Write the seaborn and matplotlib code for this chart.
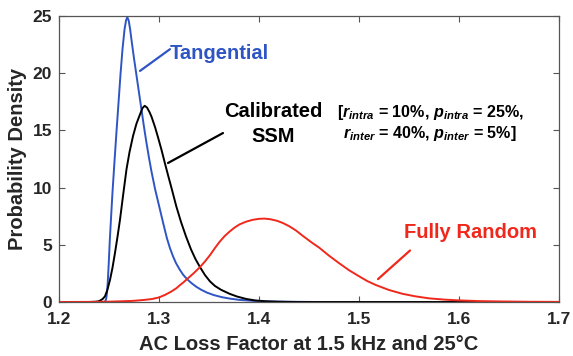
import numpy as np
import pandas as pd
import matplotlib
matplotlib.use("Agg")
import matplotlib.pyplot as plt
import seaborn as sns

# ---- data ----
tan_x = [1.2440, 1.2455, 1.2465, 1.2472, 1.2480, 1.2488, 1.2497, 1.2508, 1.2520, 1.2535,
         1.2555, 1.2575, 1.2595, 1.2615, 1.2635, 1.2655, 1.2670, 1.2683, 1.2697, 1.2712,
         1.2725, 1.2750, 1.2775, 1.2800, 1.2825, 1.2850, 1.2875, 1.2900, 1.2925, 1.2960,
         1.2990, 1.3020, 1.3050, 1.3080, 1.3110, 1.3140, 1.3170, 1.3206, 1.3240, 1.3280,
         1.3325, 1.3370, 1.3420, 1.3480, 1.3550, 1.3630, 1.3705, 1.3800, 1.3940, 1.4100,
         1.4300, 1.4600, 1.7000]
tan_y = [0.0, 0.02, 0.1, 0.3, 0.8, 1.8, 3.3, 5.4, 7.3, 9.6,
         12.3, 14.9, 17.4, 19.9, 22.1, 23.8, 24.6, 24.9, 24.6, 23.8,
         22.9, 21.3, 19.8, 18.3, 16.8, 15.3, 13.9, 12.6, 11.4, 9.9,
         8.8, 7.7, 6.6, 5.55, 4.7, 4.0, 3.4, 2.85, 2.4, 2.0,
         1.65, 1.35, 1.08, 0.82, 0.6, 0.42, 0.3, 0.19, 0.1, 0.05,
         0.02, 0.0, 0.0]

ssm_x = [1.2300, 1.2360, 1.2390, 1.2410, 1.2435, 1.2460, 1.2485, 1.2510, 1.2535, 1.2560,
         1.2585, 1.2610, 1.2642, 1.2675, 1.2705, 1.2740, 1.2775, 1.2810, 1.2835, 1.2857,
         1.2880, 1.2905, 1.2925, 1.2960, 1.2990, 1.3025, 1.3057, 1.3090, 1.3130, 1.3173,
         1.3220, 1.3270, 1.3320, 1.3365, 1.3410, 1.3460, 1.3510, 1.3560, 1.3620, 1.3705,
         1.3780, 1.3870, 1.3960, 1.4070, 1.4200, 1.4400, 1.7000]
ssm_y = [0.0, 0.02, 0.05, 0.12, 0.25, 0.5, 1.1, 1.93, 3.0, 4.3,
         5.7, 7.2, 9.4, 11.6, 13.1, 14.5, 15.6, 16.4, 16.95, 17.15,
         17.0, 16.6, 16.2, 15.3, 14.4, 13.3, 12.2, 11.1, 9.8, 8.36,
         7.0, 5.73, 4.6, 3.75, 3.05, 2.35, 1.8, 1.4, 1.07, 0.72,
         0.48, 0.27, 0.14, 0.06, 0.02, 0.0, 0.0]

rnd_x = [1.200, 1.230, 1.250, 1.265, 1.274, 1.285, 1.293, 1.300, 1.306, 1.312,
         1.3173, 1.3206, 1.3245, 1.328, 1.3345, 1.341, 1.346, 1.351, 1.3558, 1.3605,
         1.3655, 1.3705, 1.3755, 1.3805, 1.387, 1.3935, 1.400, 1.4054, 1.411, 1.418,
         1.424, 1.4303, 1.437, 1.4435, 1.4535, 1.4602, 1.470, 1.480, 1.490, 1.501,
         1.5085, 1.5167, 1.530, 1.5433, 1.556, 1.570, 1.585, 1.600, 1.620, 1.640,
         1.670, 1.700]
rnd_y = [0.0, 0.01, 0.03, 0.07, 0.1, 0.18, 0.26, 0.4, 0.62, 0.9,
         1.2, 1.45, 1.72, 2.0, 2.5, 3.05, 3.55, 4.1, 4.7, 5.25,
         5.75, 6.15, 6.5, 6.78, 7.02, 7.18, 7.27, 7.29, 7.24, 7.1,
         6.9, 6.62, 6.25, 5.8, 5.15, 4.75, 4.05, 3.4, 2.78, 2.2,
         1.82, 1.49, 1.05, 0.72, 0.5, 0.32, 0.21, 0.14, 0.08, 0.05,
         0.02, 0.01]

x_ticks = [1.2, 1.3, 1.4, 1.5, 1.6, 1.7]
y_ticks = [0, 5, 10, 15, 20, 25]

BLUE = "#2f55c4"
BLACK = "#000000"
RED = "#f0281c"

df = pd.concat([
    pd.DataFrame({"x": tan_x, "y": tan_y, "s": "Tangential"}),
    pd.DataFrame({"x": ssm_x, "y": ssm_y, "s": "Calibrated SSM"}),
    pd.DataFrame({"x": rnd_x, "y": rnd_y, "s": "Fully Random"}),
], ignore_index=True)

sns.set_style("white")
plt.rcParams["font.family"] = ["Liberation Sans", "DejaVu Sans"]
plt.rcParams["font.weight"] = "bold"
plt.rcParams["mathtext.fontset"] = "custom"
plt.rcParams["mathtext.it"] = "Liberation Sans:bold:italic"
plt.rcParams["mathtext.rm"] = "Liberation Sans:bold"

fig = plt.figure(figsize=(5.73, 3.56), dpi=100)
ax = fig.add_axes([59/573, 1-302/356, 500/573, 286/356])

sns.lineplot(data=df, x="x", y="y", hue="s", sort=False, estimator=None,
             palette={"Tangential": BLUE, "Calibrated SSM": BLACK, "Fully Random": RED},
             linewidth=1.4, legend=False, ax=ax)

ax.set_xlim(1.2, 1.7)
ax.set_ylim(0, 25)
ax.set_xticks(x_ticks)
ax.set_yticks(y_ticks)
ax.set_xticklabels([f"{v:.1f}" for v in x_ticks], fontsize=12.5, fontweight="bold")
ax.set_yticklabels([str(v) for v in y_ticks], fontsize=12.5, fontweight="bold")
ax.tick_params(direction="in", length=4, width=0.8, color="#555555",
               top=True, right=True, bottom=True, left=True)
ax.tick_params(axis="x", pad=7)
ax.tick_params(axis="y", pad=5)
for sp in ax.spines.values():
    sp.set_visible(True)
    sp.set_color("#555555")
    sp.set_linewidth(0.9)

ax.set_xlabel("AC Loss Factor at 1.5 kHz and 25°C", fontsize=14.5, fontweight="bold", labelpad=6)
ax.set_ylabel("Probability Density", fontsize=14.5, fontweight="bold", labelpad=4)

# annotations
ax.text(1.3105, 21.75, "Tangential", color=BLUE, fontsize=14.5, fontweight="bold",
        ha="left", va="center")
ax.plot([1.281, 1.311], [20.2, 22.1], color=BLUE, lw=1.6)

ax.text(1.414, 16.65, "Calibrated", color=BLACK, fontsize=14.5, fontweight="bold",
        ha="center", va="center")
ax.text(1.414, 14.5, "SSM", color=BLACK, fontsize=14.5, fontweight="bold",
        ha="center", va="center")
ax.plot([1.309, 1.364], [12.15, 14.77], color=BLACK, lw=1.6)

ax.text(1.5715, 16.55, r"[$r_{intra}$ = 10%, $p_{intra}$ = 25%,", color=BLACK,
        fontsize=11.6, fontweight="bold", ha="center", va="center")
ax.text(1.5705, 14.75, r"$r_{inter}$ = 40%, $p_{inter}$ = 5%]", color=BLACK,
        fontsize=11.6, fontweight="bold", ha="center", va="center")

ax.text(1.611, 6.05, "Fully Random", color=RED, fontsize=14.5, fontweight="bold",
        ha="center", va="center")
ax.plot([1.519, 1.551], [2.0, 4.5], color=RED, lw=1.6)

fig.savefig("out.png", dpi=100)
